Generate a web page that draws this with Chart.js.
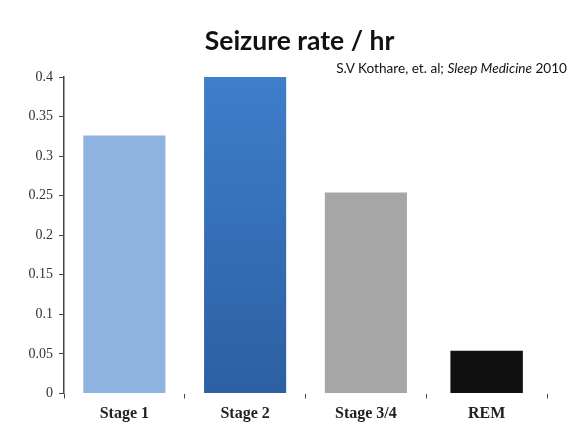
<!DOCTYPE html>
<html>
<head>
<meta charset="utf-8">
<script src="https://cdn.jsdelivr.net/npm/chart.js@4/dist/chart.umd.min.js"></script>
<style>
  html, body { margin: 0; padding: 0; background: #fff; }
  #wrap { position: relative; width: 577px; height: 433px; }
  #title {
    position: absolute; left: 11px; width: 577px; top: 24px; text-align: center;
    font: bold 26.5px Lato, "Open Sans", sans-serif; color: #111;
  }
  #cite {
    position: absolute; right: 10px; top: 60px;
    font: 13.6px Lato, "Open Sans", sans-serif; color: #111;
  }
</style>
</head>
<body>
<div id="wrap">
  <canvas id="c" width="577" height="433"></canvas>
  <div id="title">Seizure rate / hr</div>
  <div id="cite">S.V Kothare, et. al; <i>Sleep Medicine</i> 2010</div>
</div>
<script>
  // Sleep stages and seizures per hour
  const stages = ['Stage 1', 'Stage 2', 'Stage 3/4', 'REM'];
  const seizureRate = [0.326, 0.4, 0.254, 0.054];
  const barColors = ['#8eb3e1', 'gradient', '#a6a6a6', '#111111'];
  const yTicks = [0, 0.05, 0.1, 0.15, 0.2, 0.25, 0.3, 0.35, 0.4];

  const AXIS = '#444';
  const SERIF = '"Liberation Serif", "Times New Roman", serif';

  // Stage 2 has a soft top-to-bottom shade on the slide
  function stage2Fill(ctx) {
    const chart = ctx.chart;
    const area = chart.chartArea;
    if (!area) return '#3469b0';
    const g = chart.ctx.createLinearGradient(0, area.top, 0, area.bottom);
    g.addColorStop(0, '#3e7eca');
    g.addColorStop(1, '#2d5fa3');
    return g;
  }

  function colorFor(ctx) {
    const c = barColors[ctx.dataIndex];
    return c === 'gradient' ? stage2Fill(ctx) : c;
  }

  // REM is drawn a little narrower, so it gets its own dataset
  const isRem = (i) => stages[i] === 'REM';

  new Chart(document.getElementById('c'), {
    type: 'bar',
    data: {
      labels: stages,
      datasets: [
        {
          data: seizureRate.map((v, i) => (isRem(i) ? null : v)),
          backgroundColor: colorFor,
          barPercentage: 0.68,
          categoryPercentage: 1,
          grouped: false,
        },
        {
          data: seizureRate.map((v, i) => (isRem(i) ? v : null)),
          backgroundColor: colorFor,
          barPercentage: 0.6,
          categoryPercentage: 1,
          grouped: false,
        },
      ],
    },
    options: {
      responsive: false,
      animation: false,
      layout: { padding: { left: 0, right: 30, top: 77, bottom: 0 } },
      plugins: { legend: { display: false }, tooltip: { enabled: false } },
      scales: {
        x: {
          border: { display: false },
          grid: { drawOnChartArea: false, drawTicks: true, tickLength: 5, color: AXIS, offset: true },
          ticks: { color: '#222', padding: 6, font: { family: SERIF, size: 16, weight: 'bold' } },
          afterFit: (s) => { s.height = 39.5; },
        },
        y: {
          min: 0,
          max: 0.4,
          border: { display: true, color: AXIS, width: 1.5 },
          grid: { drawOnChartArea: false, drawTicks: true, tickLength: 5, color: AXIS },
          afterBuildTicks: (s) => { s.ticks = yTicks.map((v) => ({ value: v })); },
          ticks: {
            color: '#333',
            padding: 6,
            font: { family: SERIF, size: 14 },
            callback: (v) => String(v),
          },
          afterFit: (s) => { s.width = 64; },
        },
      },
    },
  });
</script>
</body>
</html>
